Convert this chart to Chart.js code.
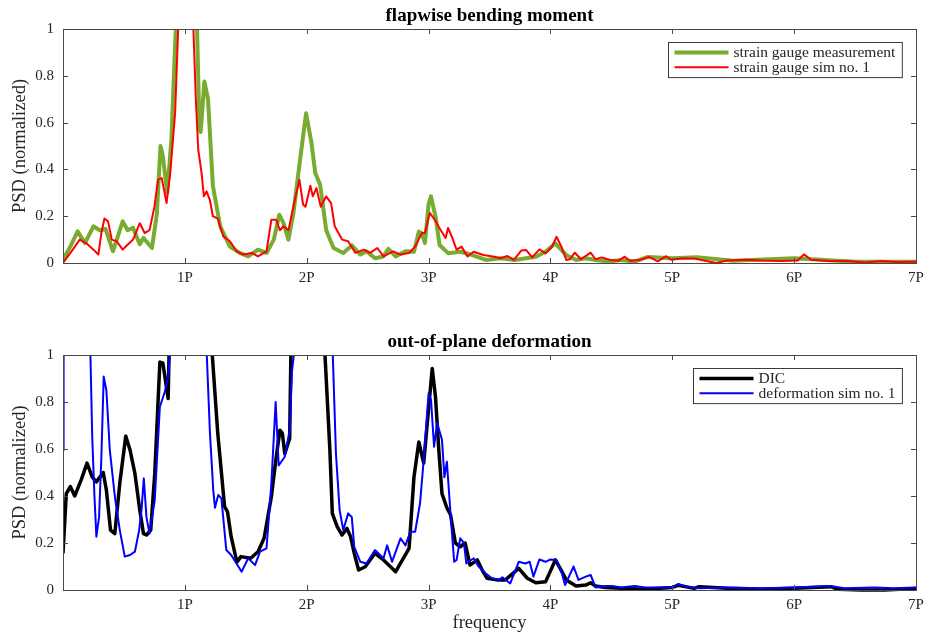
<!DOCTYPE html>
<html>
<head>
<meta charset="utf-8">
<script src="https://cdn.jsdelivr.net/npm/chart.js@4.4.1/dist/chart.umd.min.js"></script>
<style>
    html, body { margin: 0; padding: 0; background: #fff; }
    .panel { position: absolute; left: 0; width: 927px; }
    #bendingPanel { top: 0; }
    #deformationPanel { top: 326px; }
</style>
</head>
<body>
<div class="panel" id="bendingPanel"><canvas id="bendingChart" width="927" height="300"></canvas></div>
<div class="panel" id="deformationPanel"><canvas id="deformationChart" width="927" height="310"></canvas></div>
<script>
// x axis: frequency in multiples of rotor speed (P)
const periodLabels = ["", "1P", "2P", "3P", "4P", "5P", "6P", "7P"];
const psdTicks = [0, 0.2, 0.4, 0.6, 0.8, 1];

// [frequency (P), PSD normalized], values > 1 are clipped peaks
const gaugeMeasured = [
    [0, 0.014], [0.06, 0.07], [0.12, 0.135], [0.18, 0.085], [0.25, 0.157], [0.30, 0.14], [0.35, 0.145],
    [0.41, 0.05], [0.49, 0.178], [0.53, 0.14], [0.575, 0.15], [0.63, 0.08], [0.66, 0.107], [0.73, 0.064],
    [0.77, 0.21], [0.80, 0.50], [0.82, 0.455], [0.855, 0.30], [0.89, 0.53], [0.91, 0.80], [0.926, 1.0],
    [1.01, 6], [1.10, 1.0], [1.12, 0.58], [1.13, 0.56], [1.16, 0.776], [1.19, 0.70], [1.23, 0.33],
    [1.29, 0.157], [1.37, 0.07], [1.45, 0.043], [1.52, 0.028], [1.60, 0.057], [1.67, 0.043], [1.73, 0.10],
    [1.775, 0.206], [1.81, 0.17], [1.85, 0.10], [1.89, 0.21], [1.945, 0.44], [1.995, 0.64], [2.04, 0.51],
    [2.07, 0.385], [2.11, 0.335], [2.16, 0.14], [2.22, 0.064], [2.30, 0.043], [2.37, 0.075], [2.44, 0.036],
    [2.49, 0.05], [2.56, 0.02], [2.63, 0.028], [2.67, 0.06], [2.73, 0.028], [2.81, 0.05], [2.88, 0.048],
    [2.92, 0.134], [2.945, 0.127], [2.97, 0.085], [3.0, 0.25], [3.02, 0.285], [3.06, 0.19], [3.09, 0.077],
    [3.16, 0.042], [3.26, 0.048], [3.36, 0.034], [3.47, 0.013], [3.59, 0.02], [3.71, 0.013], [3.80, 0.02],
    [3.88, 0.027], [3.96, 0.048], [4.04, 0.084], [4.13, 0.034], [4.21, 0.013], [4.29, 0.02], [4.37, 0.013],
    [4.48, 0.006], [4.58, 0.013], [4.69, 0.006], [4.80, 0.026], [5.0, 0.02], [5.2, 0.025], [5.5, 0.01],
    [6.0, 0.02], [6.5, 0.005], [7.0, 0.005]
];

const gaugeSim = [
    [0, 0], [0.07, 0.05], [0.137, 0.10], [0.19, 0.085], [0.25, 0.057], [0.29, 0.036], [0.315, 0.128],
    [0.34, 0.19], [0.37, 0.178], [0.40, 0.10], [0.44, 0.093], [0.49, 0.057], [0.53, 0.078], [0.575, 0.10],
    [0.63, 0.17], [0.67, 0.128], [0.71, 0.14], [0.75, 0.24], [0.78, 0.356], [0.81, 0.363], [0.85, 0.256],
    [0.88, 0.385], [0.92, 0.64], [0.945, 1.0], [1.0, 6], [1.07, 1.0], [1.09, 0.70], [1.11, 0.484],
    [1.137, 0.385], [1.156, 0.285], [1.178, 0.306], [1.205, 0.27], [1.23, 0.20], [1.27, 0.19], [1.315, 0.114],
    [1.37, 0.093], [1.425, 0.05], [1.48, 0.036], [1.55, 0.043], [1.60, 0.028], [1.67, 0.05], [1.71, 0.185],
    [1.75, 0.185], [1.78, 0.14], [1.81, 0.157], [1.85, 0.14], [1.89, 0.24], [1.94, 0.356], [1.97, 0.25],
    [1.99, 0.24], [2.03, 0.33], [2.05, 0.285], [2.08, 0.32], [2.115, 0.24], [2.16, 0.285], [2.20, 0.256],
    [2.23, 0.157], [2.29, 0.10], [2.34, 0.093], [2.40, 0.043], [2.47, 0.057], [2.52, 0.043], [2.58, 0.064],
    [2.63, 0.028], [2.71, 0.05], [2.77, 0.036], [2.84, 0.043], [2.89, 0.07], [2.945, 0.128], [2.97, 0.128],
    [3.01, 0.214], [3.05, 0.185], [3.10, 0.14], [3.14, 0.107], [3.16, 0.15], [3.19, 0.114], [3.23, 0.057],
    [3.27, 0.07], [3.32, 0.028], [3.37, 0.048], [3.45, 0.034], [3.54, 0.027], [3.59, 0.02], [3.647, 0.030],
    [3.70, 0.013], [3.76, 0.053], [3.80, 0.056], [3.85, 0.024], [3.91, 0.058], [3.96, 0.041], [4.01, 0.067],
    [4.05, 0.112], [4.09, 0.07], [4.13, 0.013], [4.16, 0.016], [4.20, 0.044], [4.25, 0.016], [4.33, 0.044],
    [4.37, 0.016], [4.42, 0.024], [4.49, 0.013], [4.56, 0.01], [4.61, 0.027], [4.65, 0.01], [4.73, 0.013],
    [4.81, 0.026], [4.88, 0.007], [4.95, 0.029], [4.99, 0.014], [5.07, 0.019], [5.18, 0.019], [5.26, 0.011],
    [5.36, 0.0], [5.45, 0.011], [5.61, 0.014], [5.73, 0.011], [5.89, 0.009], [6.03, 0.011], [6.08, 0.037],
    [6.14, 0.014], [6.28, 0.009], [6.44, 0.009], [6.58, 0.002], [6.71, 0.009], [6.85, 0.004], [7.0, 0.005]
];

const dicMeasured = [
    [0, 0.156], [0.027, 0.41], [0.06, 0.44], [0.096, 0.40], [0.15, 0.47], [0.197, 0.54], [0.24, 0.48],
    [0.274, 0.46], [0.33, 0.50], [0.356, 0.425], [0.39, 0.255], [0.425, 0.24], [0.466, 0.454], [0.515, 0.655],
    [0.55, 0.596], [0.59, 0.496], [0.63, 0.34], [0.66, 0.24], [0.685, 0.234], [0.72, 0.255], [0.753, 0.496],
    [0.795, 0.97], [0.82, 0.965], [0.85, 0.86], [0.863, 0.815], [0.87, 1.0], [1.05, 8], [1.225, 1.0],
    [1.27, 0.667], [1.326, 0.355], [1.35, 0.333], [1.38, 0.227], [1.42, 0.135], [1.43, 0.12], [1.46, 0.142],
    [1.54, 0.135], [1.60, 0.163], [1.65, 0.22], [1.71, 0.397], [1.75, 0.567], [1.78, 0.68], [1.80, 0.667],
    [1.82, 0.58], [1.86, 0.645], [1.87, 1.0], [2.0, 8], [2.15, 1.0], [2.19, 0.596], [2.21, 0.326],
    [2.25, 0.27], [2.29, 0.234], [2.33, 0.262], [2.36, 0.227], [2.39, 0.156], [2.426, 0.085], [2.48, 0.099],
    [2.56, 0.156], [2.63, 0.128], [2.73, 0.078], [2.84, 0.177], [2.88, 0.48], [2.92, 0.63], [2.96, 0.54],
    [3.03, 0.943], [3.057, 0.82], [3.084, 0.596], [3.11, 0.41], [3.15, 0.35], [3.18, 0.32], [3.22, 0.20],
    [3.26, 0.184], [3.30, 0.20], [3.34, 0.106], [3.40, 0.128], [3.44, 0.085], [3.48, 0.05], [3.56, 0.043],
    [3.63, 0.043], [3.74, 0.092], [3.81, 0.05], [3.88, 0.031], [3.96, 0.035], [4.01, 0.092], [4.04, 0.128],
    [4.08, 0.092], [4.13, 0.043], [4.21, 0.017], [4.29, 0.021], [4.33, 0.031], [4.37, 0.017], [4.45, 0.011],
    [4.58, 0.007], [4.77, 0.003], [5.0, 0.011], [5.05, 0.02], [5.18, 0.007], [5.22, 0.014], [5.45, 0.007],
    [5.73, 0.003], [6.0, 0.007], [6.3, 0.014], [6.36, 0.003], [6.55, 0.0], [6.74, 0.0], [7.0, 0.006]
];

const dicSim = [
    [0, 0.596], [0.005, 1.0], [0.1, 8], [0.225, 1.0], [0.24, 0.65], [0.258, 0.40], [0.274, 0.227],
    [0.296, 0.31], [0.315, 0.567], [0.334, 0.908], [0.356, 0.85], [0.384, 0.596], [0.425, 0.40],
    [0.466, 0.255], [0.507, 0.142], [0.55, 0.149], [0.59, 0.163], [0.625, 0.255], [0.644, 0.34],
    [0.663, 0.475], [0.685, 0.31], [0.71, 0.24], [0.753, 0.383], [0.795, 0.78], [0.836, 0.844],
    [0.863, 0.908], [0.877, 1.0], [1.03, 8], [1.18, 1.0], [1.206, 0.667], [1.233, 0.426], [1.247, 0.35],
    [1.274, 0.404], [1.30, 0.39], [1.34, 0.17], [1.38, 0.149], [1.466, 0.078], [1.52, 0.135], [1.576, 0.106],
    [1.617, 0.163], [1.67, 0.177], [1.71, 0.454], [1.745, 0.80], [1.77, 0.53], [1.82, 0.567], [1.86, 0.68],
    [1.88, 0.936], [1.895, 1.0], [2.05, 8], [2.214, 1.0], [2.24, 0.58], [2.27, 0.34], [2.30, 0.255],
    [2.34, 0.326], [2.37, 0.31], [2.39, 0.184], [2.44, 0.12], [2.49, 0.113], [2.56, 0.17], [2.63, 0.135],
    [2.66, 0.19], [2.70, 0.12], [2.77, 0.22], [2.81, 0.19], [2.85, 0.248], [2.89, 0.248], [2.93, 0.369],
    [2.96, 0.553], [3.00, 0.837], [3.02, 0.81], [3.045, 0.61], [3.07, 0.71], [3.11, 0.64], [3.13, 0.48],
    [3.15, 0.546], [3.18, 0.326], [3.21, 0.12], [3.23, 0.128], [3.26, 0.22], [3.29, 0.2], [3.31, 0.113],
    [3.37, 0.135], [3.41, 0.1], [3.47, 0.07], [3.52, 0.05], [3.58, 0.043], [3.606, 0.054], [3.67, 0.028],
    [3.74, 0.12], [3.795, 0.113], [3.83, 0.12], [3.86, 0.057], [3.91, 0.13], [3.96, 0.12], [4.0, 0.13],
    [4.05, 0.128], [4.09, 0.078], [4.12, 0.021], [4.19, 0.10], [4.23, 0.043], [4.29, 0.057], [4.33, 0.064],
    [4.37, 0.011], [4.45, 0.017], [4.51, 0.017], [4.58, 0.011], [4.69, 0.017], [4.78, 0.011], [4.89, 0.011],
    [5.0, 0.011], [5.05, 0.026], [5.11, 0.014], [5.22, 0.007], [5.45, 0.011], [5.73, 0.007], [6.0, 0.011],
    [6.3, 0.017], [6.41, 0.007], [6.66, 0.011], [6.82, 0.007], [7.0, 0.011]
];

const SERIF = "'Liberation Serif', 'Times New Roman', serif";
const AXIS_COLOR = "#4a4a4a";
const TEXT_COLOR = "#262626";

// matlab style: box around the axes and ticks pointing inwards on all four sides
const matlabAxesBox = {
    id: "matlabAxesBox",
    afterDatasetsDraw(chart) {
        const { ctx, chartArea: a, scales } = chart;
        const tickLen = 5;
        ctx.save();
        ctx.strokeStyle = AXIS_COLOR;
        ctx.lineWidth = 1;
        ctx.beginPath();
        scales.x.ticks.forEach(t => {
            const px = Math.round(scales.x.getPixelForValue(t.value)) + 0.5;
            ctx.moveTo(px, a.bottom);
            ctx.lineTo(px, a.bottom - tickLen);
            ctx.moveTo(px, a.top);
            ctx.lineTo(px, a.top + tickLen);
        });
        scales.y.ticks.forEach(t => {
            const py = Math.round(scales.y.getPixelForValue(t.value)) + 0.5;
            ctx.moveTo(a.left, py);
            ctx.lineTo(a.left + tickLen, py);
            ctx.moveTo(a.right, py);
            ctx.lineTo(a.right - tickLen, py);
        });
        ctx.stroke();
        ctx.strokeRect(Math.round(a.left) + 0.5, Math.round(a.top) + 0.5,
            Math.round(a.right - a.left), Math.round(a.bottom - a.top));
        ctx.restore();
    }
};

// legend with a frame in the top right corner of the axes
const boxedLegend = {
    id: "boxedLegend",
    afterDraw(chart, args, opts) {
        const { ctx, chartArea: a } = chart;
        const sets = chart.data.datasets;
        ctx.save();
        ctx.font = "15.5px " + SERIF;
        const textW = Math.max(...sets.map(d => ctx.measureText(d.label).width));
        const w = opts.textOffset + textW + 7;
        const h = opts.rowHeight * sets.length + 5.5;
        const left = Math.round(a.right - 14 - w) + 0.5;
        const top = Math.round(a.top + 13) + 0.5;

        ctx.fillStyle = "#fff";
        ctx.fillRect(left, top, w, h);
        ctx.strokeStyle = "#3a3a3a";
        ctx.lineWidth = 1;
        ctx.strokeRect(left, top, w, h);

        sets.forEach((d, i) => {
            const y = top + 2.5 + opts.rowHeight * (i + 0.5);
            ctx.beginPath();
            ctx.strokeStyle = d.borderColor;
            ctx.lineWidth = d.borderWidth;
            ctx.moveTo(left + 6, y);
            ctx.lineTo(left + 60, y);
            ctx.stroke();
            ctx.fillStyle = TEXT_COLOR;
            ctx.textBaseline = "middle";
            ctx.fillText(d.label, left + opts.textOffset, y + 0.5);
        });
        ctx.restore();
    }
};

function toPoints(pairs) {
    return pairs.map(p => ({ x: p[0], y: p[1] }));
}

function buildPanel(canvasId, titleText, series, xAxisHeight, showXTitle) {
    return new Chart(document.getElementById(canvasId), {
        type: "line",
        data: {
            datasets: series.map(s => ({
                label: s.label,
                data: toPoints(s.points),
                borderColor: s.color,
                borderWidth: s.width,
                order: s.order,
                pointRadius: 0,
                tension: 0,
                borderJoinStyle: "round",
                clip: { left: 0, top: 0, right: 0, bottom: 3 }
            }))
        },
        options: {
            responsive: false,
            animation: false,
            events: [],
            layout: { padding: { left: 0, right: 11, top: 0, bottom: 0 } },
            plugins: {
                legend: { display: false },
                tooltip: { enabled: false },
                title: {
                    display: true,
                    text: titleText,
                    fullSize: false,
                    color: "#000",
                    font: { family: SERIF, size: 19, weight: "bold" },
                    padding: { top: 4.6, bottom: 1.6 }
                },
                boxedLegend: { textOffset: 65, rowHeight: 14.8 }
            },
            scales: {
                x: {
                    type: "linear",
                    min: 0,
                    max: 7,
                    grid: { display: false, drawTicks: false },
                    border: { display: false },
                    afterBuildTicks: scale => {
                        scale.ticks = periodLabels.map((_, i) => ({ value: i }));
                    },
                    ticks: {
                        callback: v => periodLabels[v],
                        color: TEXT_COLOR,
                        font: { family: SERIF, size: 15 },
                        padding: 6,
                        maxRotation: 0,
                        autoSkip: false
                    },
                    title: {
                        display: showXTitle,
                        text: "frequency",
                        color: TEXT_COLOR,
                        font: { family: SERIF, size: 18.5 },
                        padding: { top: 0, bottom: 1.5 }
                    },
                    afterFit: scale => {
                        scale.height = xAxisHeight;
                        scale.paddingLeft = 0;
                        scale.paddingRight = 0;
                    }
                },
                y: {
                    min: 0,
                    max: 1,
                    grid: { display: false, drawTicks: false },
                    border: { display: false },
                    afterBuildTicks: scale => {
                        scale.ticks = psdTicks.map(v => ({ value: v }));
                    },
                    ticks: {
                        callback: v => String(v),
                        color: TEXT_COLOR,
                        font: { family: SERIF, size: 15 },
                        padding: 9
                    },
                    title: {
                        display: true,
                        text: "PSD (normalized)",
                        color: TEXT_COLOR,
                        font: { family: SERIF, size: 18.5 },
                        padding: { top: 9, bottom: 0 }
                    },
                    afterFit: scale => { scale.width = 63; }
                }
            }
        },
        plugins: [matlabAxesBox, boxedLegend]
    });
}

buildPanel("bendingChart", "flapwise bending moment", [
    { label: "strain gauge measurement", points: gaugeMeasured, color: "#77AC30", width: 4, order: 1 },
    { label: "strain gauge sim no. 1", points: gaugeSim, color: "#FF0000", width: 2, order: 0 }
], 37, false);

buildPanel("deformationChart", "out-of-plane deformation", [
    { label: "DIC", points: dicMeasured, color: "#000000", width: 3.5, order: 1 },
    { label: "deformation sim no. 1", points: dicSim, color: "#0000FF", width: 2, order: 0 }
], 46, true);
</script>
</body>
</html>
